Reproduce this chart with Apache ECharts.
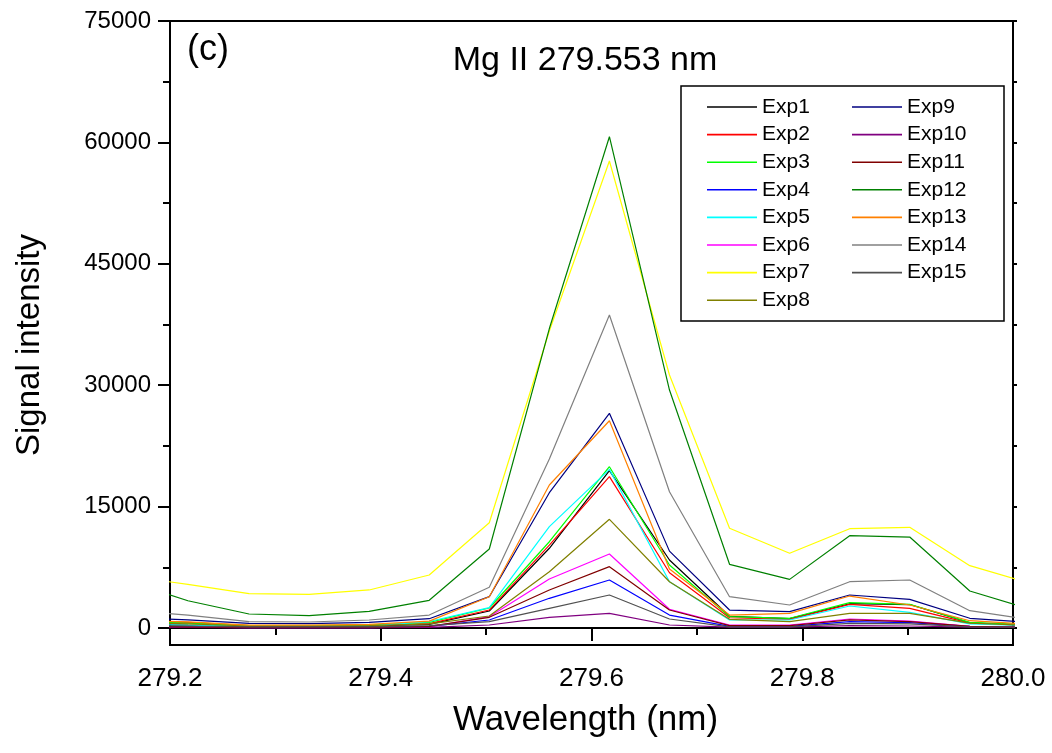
<!DOCTYPE html>
<html>
<head>
<meta charset="utf-8">
<script src="https://cdn.jsdelivr.net/npm/echarts@6/dist/echarts.min.js"></script>
<style>
html,body{margin:0;padding:0;background:#fff;}
#chart{width:1052px;height:753px;}
</style>
</head>
<body>
<div id="chart"></div>
<script>
// Wavelength of each spectrometer pixel (nm)
const wavelengths = [279.160, 279.217, 279.275, 279.332, 279.389, 279.446, 279.503, 279.560, 279.617, 279.674, 279.731, 279.788, 279.845, 279.902, 279.959, 280.016];

const exp1  = [500, 350, 200, 200, 250, 450, 2100, 9850, 19440, 8400, 1450, 1150, 3000, 2900, 650, 300];
const exp2  = [900, 700, 300, 250, 300, 550, 2220, 10250, 18700, 6830, 1270, 1070, 2920, 2430, 600, 350];
const exp3  = [800, 600, 300, 300, 350, 700, 2470, 10660, 19930, 7780, 1400, 1200, 3130, 2920, 700, 400];
const exp4  = [200, 150, 100, 100, 100, 200, 990, 3670, 5930, 1600, 200, 200, 780, 660, 200, 100];
const exp5  = [500, 350, 200, 200, 250, 800, 2510, 12520, 19600, 5720, 990, 990, 2720, 1940, 500, 300];
const exp6  = [150, 100, 50, 50, 50, 150, 1400, 6050, 9140, 2310, 370, 370, 1110, 860, 200, 100];
const exp7  = [6400, 5400, 4240, 4160, 4700, 6550, 13010, 36700, 57700, 31260, 12320, 9230, 12270, 12440, 7700, 5520];
const exp8  = [700, 500, 250, 250, 300, 500, 1480, 6960, 13430, 5720, 1070, 780, 1810, 1810, 600, 300];
const exp9  = [1300, 1000, 580, 530, 700, 1150, 3870, 16720, 26530, 9500, 2220, 2020, 4080, 3540, 1200, 700];
const exp10 = [100, 80, 50, 50, 50, 80, 370, 1320, 1810, 370, 100, 100, 290, 250, 100, 50];
const exp11 = [200, 150, 100, 100, 100, 200, 1320, 4700, 7580, 2220, 300, 300, 1000, 800, 200, 100];
const exp12 = [5800, 3370, 1730, 1520, 2060, 3420, 9760, 37000, 60700, 29400, 7870, 6010, 11410, 11240, 4570, 2350];
const exp13 = [1000, 750, 350, 350, 450, 850, 3870, 17670, 25610, 7300, 1600, 1810, 3950, 2840, 900, 450];
const exp14 = [2200, 1600, 780, 740, 990, 1600, 5030, 20880, 38670, 16840, 3870, 2840, 5720, 5930, 2140, 1050];
const exp15 = [300, 250, 150, 150, 150, 300, 780, 2430, 4080, 1110, 150, 150, 580, 500, 150, 100];

const seriesNames = ['Exp1','Exp2','Exp3','Exp4','Exp5','Exp6','Exp7','Exp8','Exp9','Exp10','Exp11','Exp12','Exp13','Exp14','Exp15'];
const seriesValues = [exp1, exp2, exp3, exp4, exp5, exp6, exp7, exp8, exp9, exp10, exp11, exp12, exp13, exp14, exp15];

const xTickLabels = [279.2, 279.4, 279.6, 279.8, 280.0];
const xMinorTicks = [279.3, 279.5, 279.7, 279.9];
const yTickLabels = [0, 15000, 30000, 45000, 60000, 75000];
const yMinorTicks = [7500, 22500, 37500, 52500, 67500];

const colors = ['#000000','#FF0000','#00FF00','#0000FF','#00FFFF','#FF00FF','#FFFF00','#808000','#000080','#800080','#800000','#008000','#FF8000','#808080','#505050'];

const FONT = 'Liberation Sans, Arial, Helvetica, sans-serif';
const chart = echarts.init(document.getElementById('chart'), null, {renderer: 'canvas'});

const series = seriesNames.map((name, i) => ({
  name: name,
  type: 'line',
  xAxisIndex: 0,
  yAxisIndex: 0,
  data: wavelengths.map((w, j) => [w, seriesValues[i][j]]),
  symbol: 'none',
  showSymbol: false,
  clip: true,
  lineStyle: {width: 1.2, color: colors[i]},
  itemStyle: {color: colors[i]},
  emphasis: {disabled: true},
  z: 2
}));

const legendCommon = {
  orient: 'vertical',
  icon: 'rect',
  itemWidth: 50,
  itemHeight: 1.6,
  itemGap: 5.6,
  textStyle: {fontFamily: FONT, fontSize: 21, color: '#000', lineHeight: 22},
  selectedMode: false,
  padding: 0,
  z: 10
};

const option = {
  animation: false,
  backgroundColor: '#fff',
  color: colors,
  grid: {left: 170, right: 39, top: 21, bottom: 108, show: true, borderColor: '#000', borderWidth: 2, backgroundColor: 'transparent'},
  legend: [
    Object.assign({}, legendCommon, {data: seriesNames.slice(0, 8), left: 707, top: 96}),
    Object.assign({}, legendCommon, {data: seriesNames.slice(8), left: 852, top: 96})
  ],
  graphic: [
    {type: 'rect', shape: {x: 681, y: 86, width: 323, height: 235}, style: {fill: '#fff', stroke: '#000', lineWidth: 1.5}, z: 3},
    {type: 'text', x: 585, y: 61, style: {text: 'Mg II 279.553 nm', fontFamily: FONT, fontSize: 34, fill: '#000', textAlign: 'center', textVerticalAlign: 'middle'}, z: 10},
    {type: 'text', x: 187, y: 50, style: {text: '(c)', fontFamily: FONT, fontSize: 36, fill: '#000', textAlign: 'left', textVerticalAlign: 'middle'}, z: 10},
    {type: 'text', x: 30, y: 345, rotation: Math.PI / 2, style: {text: 'Signal intensity', fontFamily: FONT, fontSize: 33, fill: '#000', textAlign: 'center', textVerticalAlign: 'middle'}, z: 10}
  ],
  xAxis: [
    {
      type: 'value', min: 279.2, max: 280.0, position: 'bottom',
      name: 'Wavelength (nm)', nameLocation: 'middle', nameGap: 58,
      nameTextStyle: {fontFamily: FONT, fontSize: 35, color: '#000', padding: [0, 12, 0, 0]},
      axisLine: {show: true, lineStyle: {color: '#000', width: 2}},
      axisTick: {show: true, length: 13, lineStyle: {color: '#000', width: 2}, customValues: xTickLabels},
      axisLabel: {show: true, margin: 21, fontFamily: FONT, fontSize: 26, color: '#000', customValues: xTickLabels, formatter: v => Number(v).toFixed(1)},
      splitLine: {show: false}
    },
    {
      type: 'value', min: 279.2, max: 280.0, position: 'bottom',
      axisLine: {show: false},
      axisTick: {show: true, length: 7, lineStyle: {color: '#000', width: 2}, customValues: xMinorTicks},
      axisLabel: {show: false},
      splitLine: {show: false}
    }
  ],
  yAxis: [
    {
      type: 'value', min: -2100, max: 75000, position: 'left',
      axisLine: {show: true, lineStyle: {color: '#000', width: 2}},
      axisTick: {show: true, length: 12, lineStyle: {color: '#000', width: 2}, customValues: yTickLabels},
      axisLabel: {show: true, margin: 19, fontFamily: FONT, fontSize: 24, color: '#000', customValues: yTickLabels, formatter: v => String(Math.round(v))},
      splitLine: {show: false}
    },
    {
      type: 'value', min: -2100, max: 75000, position: 'left',
      axisLine: {show: false},
      axisTick: {show: true, length: 7, lineStyle: {color: '#000', width: 2}, customValues: yMinorTicks},
      axisLabel: {show: false},
      splitLine: {show: false}
    },
    {
      type: 'value', min: -2100, max: 75000, position: 'right',
      axisLine: {show: false},
      axisTick: {show: true, length: 4, lineStyle: {color: '#000', width: 2}, customValues: yTickLabels.concat(yMinorTicks)},
      axisLabel: {show: false},
      splitLine: {show: false}
    }
  ],
  series: series
};

chart.setOption(option);
</script>
</body>
</html>
